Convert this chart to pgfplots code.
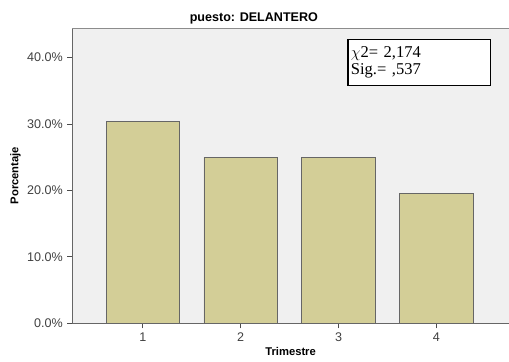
\documentclass[border=0pt]{standalone}
\usepackage{pgfplots}
\pgfplotsset{compat=1.18}
\usepackage{fontspec}
\setmainfont{Liberation Sans}
\newfontfamily\serifx{Liberation Serif}
\definecolor{barfill}{HTML}{D3CE97}
\definecolor{bgc}{HTML}{F0F0F0}
\begin{document}
\begin{tikzpicture}[x=0.75pt,y=0.75pt]
\begin{axis}[
  at={(0,0)}, anchor=origin,
  scale only axis,
  width=440*0.75pt, height=298*0.75pt,
  xmin=0.28, xmax=4.74,
  ymin=0, ymax=44.5,
  axis background/.style={fill=bgc},
  axis line style={draw=black!60},
  axis x line*=bottom, axis y line*=left,
  xtick={1,2,3,4},
  ytick={0,10,20,30,40},
  yticklabels={0.0\%,10.0\%,20.0\%,30.0\%,40.0\%},
  tick align=outside,
  major tick length=5*0.75pt,
  tick style={draw=black!70, line width=0.6pt},
  /pgf/number format/assume math mode=true,
  ticklabel style={font=\fontsize{9.5}{11}\selectfont, text=black!75},
  xlabel={\textbf{Trimestre}},
  ylabel={\textbf{Porcentaje}},
  xlabel style={font=\fontsize{8.5}{10}\selectfont, yshift=3pt},
  ylabel style={font=\fontsize{8.5}{10}\selectfont, yshift=-2pt},
  clip=false,
]
\addplot[ybar, bar width=0.75, fill=barfill, draw=black!60, line width=0.6pt] coordinates {(1,30.4) (2,25.0) (3,25.0) (4,19.6)};
\draw[draw=black!45] (axis cs:0.28,44.5) -- (axis cs:4.74,44.5);
\node[draw=black, line width=0.9pt, fill=white, anchor=north west, minimum width=144*0.75pt, minimum height=46*0.75pt, text width=138*0.75pt, align=left, inner sep=2pt, font=\serifx\fontsize{12.5}{12.5}\selectfont] at (axis cs:3.09,42.8) {$\chi$2= 2,174\\Sig.= ,537};
\end{axis}
\node[font=\bfseries\fontsize{9.5}{11}\selectfont, anchor=base] at (183,304) {puesto: DELANTERO};
\useasboundingbox (-73,-39) rectangle (436,326);
\end{tikzpicture}
\end{document}
